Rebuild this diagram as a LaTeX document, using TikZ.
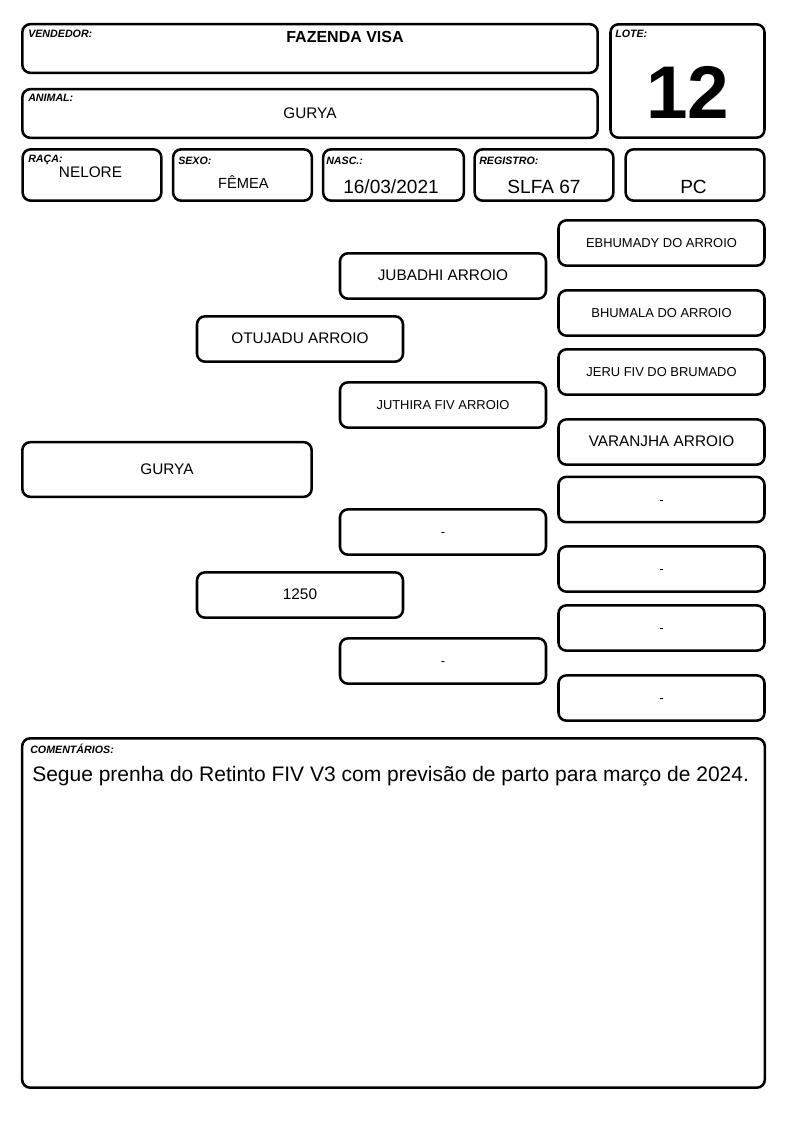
\documentclass[tikz,border=0pt]{standalone}
\usepackage{fontspec}
\setmainfont{Liberation Sans}
\newcommand{\fsz}[1]{\fontsize{#1}{#1}\selectfont}
\begin{document}
\begin{tikzpicture}[x=0.75pt, y=-0.75pt]
  % Define styles
  \tikzstyle{box} = [rectangle, rounded corners=6pt, draw=black, line width=1.9pt,
                     fill=white, inner sep=0pt, text centered]
  \tikzstyle{headbox} = [box, minimum width=431.5pt, minimum height=36.5pt]
  \tikzstyle{infobox} = [box, minimum width=104pt, minimum height=38.5pt]
  \tikzstyle{pedbox} = [box, minimum width=154.5pt, minimum height=34pt,
                        text height=0.72em, text depth=0pt]
  \tikzstyle{tag} = [inner sep=0pt, anchor=base west, font=\fsz{8}\bfseries\itshape]
  \tikzstyle{val} = [inner sep=0pt, anchor=base]
  \tikzstyle{big} = [font=\fsz{11.5}]
  \tikzstyle{small} = [font=\fsz{9.7}]

  \useasboundingbox (0,0) rectangle (794,1123);

  % Header
  \node (vend) [headbox] at (310,48.5) {};
  \node (animal) [headbox] at (310,113.5) {};
  \node (lote) [box, minimum width=115.5pt, minimum height=85pt] at (687.5,81) {};
  \node (raca) [infobox] at (92,175) {};
  \node (sexo) [infobox] at (242.5,175) {};
  \node (nasc) [infobox, minimum width=105.5pt] at (393.5,175) {};
  \node (reg) [infobox] at (544,175) {};
  \node (pc) [infobox] at (695,175) {};

  \node (vendtag) [tag] at (28,38) {VENDEDOR:};
  \node (animaltag) [tag] at (28,102) {ANIMAL:};
  \node (lotetag) [tag] at (615,38) {LOTE:};
  \node (racatag) [tag] at (28,163) {RAÇA:};
  \node (sexotag) [tag] at (178,165) {SEXO:};
  \node (nasctag) [tag] at (326,165) {NASC.:};
  \node (regtag) [tag] at (479,165) {REGISTRO:};

  \node (vendval) [val, font=\fsz{12}\bfseries] at (345,43) {FAZENDA VISA};
  \node (animalval) [val, font=\fsz{11.5}] at (310,118.5) {GURYA};
  \node (loteval) [val, font=\fsz{56}\bfseries] at (688,119) {12};
  \node (racaval) [val, font=\fsz{11.5}] at (90.5,178) {NELORE};
  \node (sexoval) [val, font=\fsz{11}] at (243.5,189) {FÊMEA};
  \node (nascval) [val, font=\fsz{14.3}] at (391,194) {16/03/2021};
  \node (regval) [val, font=\fsz{14.3}] at (544,194) {SLFA 67};
  \node (pcval) [val, font=\fsz{14.3}] at (693.5,194) {PC};

  % Pedigree
  \node (gurya) [box, big, minimum width=217pt, minimum height=41pt] at (167,469.5) {GURYA};
  \node (pai) [pedbox, big] at (300,339) {OTUJADU ARROIO};
  \node (mae) [pedbox, big] at (300,595) {1250};
  \node (avopp) [pedbox, big] at (443,276) {JUBADHI ARROIO};
  \node (avopm) [pedbox, small] at (443,405) {JUTHIRA FIV ARROIO};
  \node (avomp) [pedbox, small] at (443,532) {-};
  \node (avomm) [pedbox, small] at (443,661) {-};
  \node (bis1) [pedbox, small] at (661.5,243) {EBHUMADY DO ARROIO};
  \node (bis2) [pedbox, small] at (661.5,313) {BHUMALA DO ARROIO};
  \node (bis3) [pedbox, small] at (661.5,372) {JERU FIV DO BRUMADO};
  \node (bis4) [pedbox, big] at (661.5,442) {VARANJHA ARROIO};
  \node (bis5) [pedbox, small] at (661.5,499.5) {-};
  \node (bis6) [pedbox, small] at (661.5,569) {-};
  \node (bis7) [pedbox, small] at (661.5,628) {-};
  \node (bis8) [pedbox, small] at (661.5,698) {-};

  % Comments
  \node (coment) [box, minimum width=557pt, minimum height=262pt] at (393.5,913) {};
  \node (comenttag) [tag] at (30,753) {COMENTÁRIOS:};
  \node (comentval) [val, anchor=base west, font=\fsz{15.75}] at (32,781)
    {Segue prenha do Retinto FIV V3 com previsão de parto para março de 2024.};
\end{tikzpicture}
\end{document}
